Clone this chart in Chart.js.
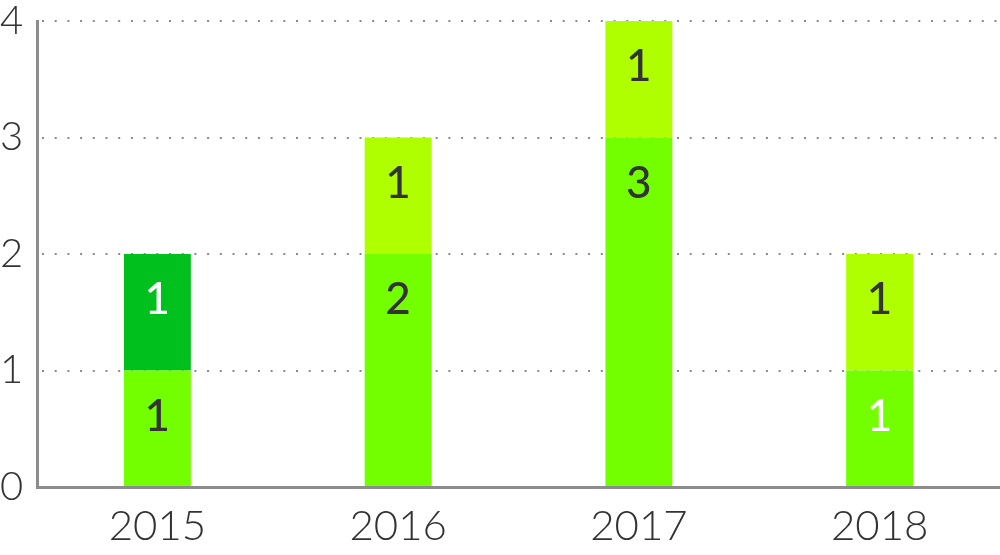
<!DOCTYPE html>
<html>
<head>
<meta charset="utf-8">
<script src="https://cdn.jsdelivr.net/npm/chart.js@4/dist/chart.umd.min.js"></script>
<style>
  html, body { margin: 0; padding: 0; background: #fff; }
  #wrap { width: 1000px; height: 555px; position: relative; }
</style>
</head>
<body>
<div id="wrap"><canvas id="myChart"></canvas></div>
<script>
// categorias y valores
var years = ['2015', '2016', '2017', '2018'];
var baseValues = [1, 2, 3, 1];
var darkValues = [1, null, null, null];
var topValues = [null, 1, 1, 1];
var yTicks = [0, 1, 2, 3, 4];

// color del texto de cada segmento
var baseLabelColors = ['#333333', '#333333', '#333333', '#ffffff'];
var darkLabelColors = ['#ffffff', '#ffffff', '#ffffff', '#ffffff'];
var topLabelColors = ['#333333', '#333333', '#333333', '#333333'];

// plugin simple para poner el valor dentro de cada barra
var insideLabels = {
    id: 'insideLabels',
    afterDatasetsDraw: function(chart) {
        var ctx = chart.ctx;
        ctx.save();
        ctx.font = '500 44px Lato, "Open Sans", sans-serif';
        ctx.textAlign = 'center';
        ctx.textBaseline = 'middle';
        chart.data.datasets.forEach(function(ds, i) {
            var meta = chart.getDatasetMeta(i);
            meta.data.forEach(function(bar, j) {
                var v = ds.data[j];
                if (v === null || v === 0) return;
                var top = Math.min(bar.y, bar.base);
                var h = Math.abs(bar.base - bar.y);
                var y = top + Math.min(h / 2, 50) - 4;
                ctx.fillStyle = ds.labelColors[j];
                ctx.fillText(String(v), bar.x, y);
            });
        });
        ctx.restore();
    }
};

var ctx = document.getElementById('myChart').getContext('2d');
var myChart = new Chart(ctx, {
    type: 'bar',
    data: {
        labels: years,
        datasets: [{
            label: 'a',
            data: baseValues,
            backgroundColor: '#73ff00',
            labelColors: baseLabelColors
        }, {
            label: 'b',
            data: darkValues,
            backgroundColor: '#00c01e',
            labelColors: darkLabelColors
        }, {
            label: 'c',
            data: topValues,
            backgroundColor: '#b0ff00',
            labelColors: topLabelColors
        }]
    },
    options: {
        responsive: true,
        maintainAspectRatio: false,
        animation: false,
        layout: { padding: { top: 21, right: 0, left: 0, bottom: 0 } },
        datasets: {
            bar: { categoryPercentage: 1, barPercentage: 0.278, borderWidth: 0 }
        },
        plugins: {
            legend: { display: false },
            tooltip: { enabled: false }
        },
        scales: {
            x: {
                stacked: true,
                grid: { display: false, drawTicks: false },
                border: { display: true, color: '#8c8c8c', width: 3 },
                ticks: {
                    color: '#333333',
                    padding: 14,
                    font: { family: 'Lato', size: 42, weight: '300' }
                },
                afterFit: function(scale) { scale.height = 68; }
            },
            y: {
                stacked: true,
                min: 0,
                max: 4,
                afterBuildTicks: function(scale) {
                    scale.ticks = yTicks.map(function(v) { return { value: v }; });
                },
                grid: {
                    drawTicks: false,
                    color: function(c) { return c.tick && c.tick.value === 0 ? 'rgba(0,0,0,0)' : '#8a8a8a'; },
                    lineWidth: 2
                },
                // puntos de la grilla
                border: { display: true, color: '#8c8c8c', width: 3, dash: [2, 10.7], dashOffset: -3 },
                ticks: {
                    color: '#333333',
                    crossAlign: 'far',
                    padding: 0,
                    font: { family: 'Lato', size: 40, weight: '300' }
                },
                afterFit: function(scale) {
                    scale.width = 37;
                    scale.paddingTop = 0;
                    scale.paddingBottom = 0;
                }
            }
        }
    },
    plugins: [insideLabels]
});
</script>
</body>
</html>
